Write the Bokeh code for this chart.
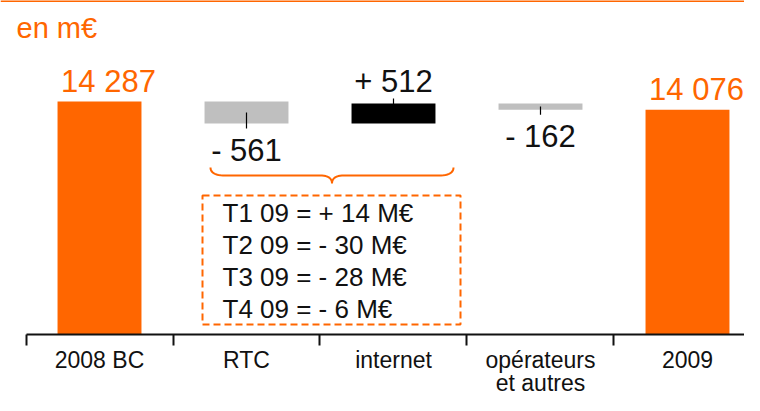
from bokeh.plotting import figure
from bokeh.models import Range1d, LinearAxis, FixedTicker, Span, ColumnDataSource
from bokeh.core.properties import value
from bokeh.embed import file_html
from bokeh.resources import INLINE
import numpy as np

# ---------------- data ----------------
categories = ["2008 BC", "RTC", "internet", "opérateurs\net autres", "2009"]
start_total = 14287
end_total = 14076
deltas = [-561, 512, -162]            # RTC, internet, opérateurs et autres
total_labels = ["14 287", "14 076"]
delta_labels = ["- 561", "+ 512", "- 162"]
quarter_labels = ["T1 09 = + 14 M€", "T2 09 = - 30 M€", "T3 09 = - 28 M€", "T4 09 = - 6 M€"]
unit_label = "en m€"

# ---------------- style / layout ----------------
ORANGE = "#FF6600"
GREY = "#BFBFBF"
BLACK = "#000000"
TEXT = "#111111"
FONT = "Liberation Sans"

W, H = 744, 395
Y_BASE = 8346                      # value where the (truncated) value axis starts
Y_MIN, Y_MAX = 6791, 16862
X_MIN, X_MAX = -0.6735, 4.3878
BAR_W = 0.571
PX = (Y_MAX - Y_MIN) / H           # data units per pixel (vertical)
TXT_SHIFT = -10                    # baseline correction of rendered text (px)

def xd(px):   # pixel x -> data x
    return X_MIN + px * (X_MAX - X_MIN) / W

def yd(py):   # pixel y (from top) -> data y
    return Y_MAX - py * (Y_MAX - Y_MIN) / H

p = figure(width=W, height=H, x_range=Range1d(X_MIN, X_MAX), y_range=Range1d(Y_MIN, Y_MAX),
           x_axis_type=None, y_axis_type=None, toolbar_location=None,
           output_backend="svg", min_border=0, outline_line_color=None)
p.background_fill_color = "white"
p.border_fill_color = "white"

# top orange rule
p.add_layout(Span(location=Y_MAX, dimension="width", line_color=ORANGE, line_width=3))

# unit label
p.text(x=[X_MIN], y=[Y_MAX], text=[unit_label], x_offset=16, y_offset=37 + TXT_SHIFT,
       text_font=value(FONT), text_font_size="29px", text_color=ORANGE,
       text_align="left", text_baseline="alphabetic")

# ---------------- total bars ----------------
tot_x = [0, len(categories) - 1]
tot_top = [start_total, end_total]
p.vbar(x=tot_x, bottom=Y_BASE, top=tot_top, width=BAR_W, color=ORANGE, line_color=None)
p.text(x=tot_x, y=tot_top, text=total_labels, x_offset=9, y_offset=-10 + TXT_SHIFT,
       text_font=value(FONT), text_font_size="31px", text_color=ORANGE,
       text_align="center", text_baseline="alphabetic")

# ---------------- waterfall deltas ----------------
level = start_total
d_x, d_bot, d_top, d_col, d_mid, d_tick = [], [], [], [], [], []
for i, d in enumerate(deltas):
    new = level + d
    d_x.append(i + 1)
    d_bot.append(min(level, new))
    d_top.append(max(level, new))
    d_col.append(BLACK if d > 0 else GREY)
    d_mid.append((level + new) / 2)
    d_tick.append(new - 5 * PX if d < 0 else new + 5 * PX)
    level = new

neg = [i for i, d in enumerate(deltas) if d < 0]
pos = [i for i, d in enumerate(deltas) if d > 0]

# leader tick of positive step (its inner part is hidden by the black bar)
p.segment(x0=[d_x[i] for i in pos], y0=[d_mid[i] for i in pos],
          x1=[d_x[i] for i in pos], y1=[d_tick[i] for i in pos],
          line_color=BLACK, line_width=1.2)
src = ColumnDataSource(dict(x=d_x, bottom=d_bot, top=d_top, color=d_col))
p.vbar(x="x", bottom="bottom", top="top", width=BAR_W, color="color", line_color=None, source=src)
# leader ticks of negative steps, drawn over the grey bars
p.segment(x0=[d_x[i] for i in neg], y0=[d_mid[i] for i in neg],
          x1=[d_x[i] for i in neg], y1=[d_tick[i] for i in neg],
          line_color=BLACK, line_width=1.2)

p.text(x=[d_x[i] for i in neg], y=[d_bot[i] for i in neg], text=[delta_labels[i] for i in neg],
       y_offset=37 + TXT_SHIFT, text_font=value(FONT), text_font_size="31px", text_color=TEXT,
       text_align="center", text_baseline="alphabetic")
p.text(x=[d_x[i] for i in pos], y=[d_top[i] for i in pos], text=[delta_labels[i] for i in pos],
       y_offset=-12 + TXT_SHIFT, text_font=value(FONT), text_font_size="31px", text_color=TEXT,
       text_align="center", text_baseline="alphabetic")

# ---------------- brace ----------------
bx0, bx1 = xd(210), xd(453)
bxc = (bx0 + bx1) / 2
y_top, y_mid, y_cusp = yd(167), yd(175), yd(183)
r1 = xd(225) - xd(210)
r2 = xd(222) - xd(210)
t = np.linspace(0, 1, 12)

def quad(a, c, b):
    return ((1 - t) ** 2 * a[0] + 2 * (1 - t) * t * c[0] + t ** 2 * b[0],
            (1 - t) ** 2 * a[1] + 2 * (1 - t) * t * c[1] + t ** 2 * b[1])

parts = [
    quad((bx0, y_top), (bx0, y_mid), (bx0 + r1, y_mid)),
    quad((bxc - r2, y_mid), (bxc, y_mid), (bxc, y_cusp)),
    quad((bxc, y_cusp), (bxc, y_mid), (bxc + r2, y_mid)),
    quad((bx1 - r1, y_mid), (bx1, y_mid), (bx1, y_top)),
]
brace_x = np.concatenate([pp[0] for pp in parts])
brace_y = np.concatenate([pp[1] for pp in parts])
p.line(brace_x, brace_y, line_color=ORANGE, line_width=2)

# ---------------- dashed box with quarterly figures ----------------
p.quad(left=[xd(202)], right=[xd(460)], top=[yd(195)], bottom=[yd(324)],
       fill_color=None, line_color=ORANGE, line_width=2, line_dash="7 4")
p.text(x=[xd(222)] * len(quarter_labels),
       y=[yd(222 + 32 * i) for i in range(len(quarter_labels))],
       y_offset=TXT_SHIFT,
       text=quarter_labels, text_font=value(FONT), text_font_size="26px",
       text_color=TEXT, text_align="left", text_baseline="alphabetic")

# ---------------- category axis ----------------
ax = LinearAxis(fixed_location=Y_BASE, bounds=(-0.5, len(categories) - 0.5))
ax.ticker = FixedTicker(ticks=list(range(len(categories))),
                        minor_ticks=[i - 0.5 for i in range(len(categories))])
ax.major_label_overrides = {i: c for i, c in enumerate(categories)}
ax.major_tick_out = 0
ax.major_tick_in = 0
ax.minor_tick_out = 11
ax.minor_tick_in = 0
ax.minor_tick_line_width = 2
ax.minor_tick_line_color = TEXT
ax.axis_line_width = 2
ax.axis_line_color = TEXT
ax.major_label_text_font = FONT
ax.major_label_text_font_size = "23px"
ax.major_label_text_color = TEXT
ax.major_label_text_line_height = 0.9
ax.major_label_standoff = 1
p.add_layout(ax, "below")

open("out.html", "w").write(file_html(p, INLINE))
